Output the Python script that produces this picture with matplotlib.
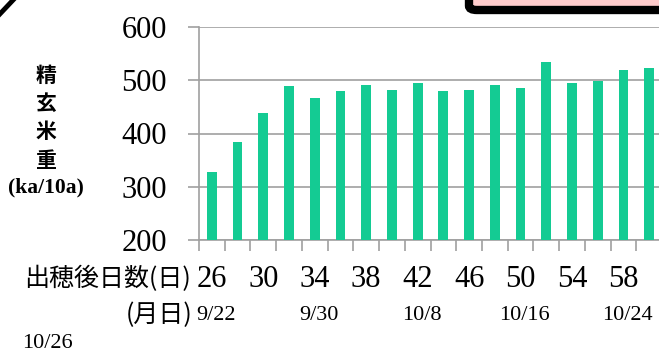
import matplotlib
matplotlib.use('Agg')
from matplotlib import pyplot as plt
from matplotlib.patches import FancyBboxPatch
from matplotlib.lines import Line2D
import numpy as np

# Brown rice weight by days after heading
days = [26, 28, 30, 32, 34, 36, 38, 40, 42, 44, 46, 48, 50, 52, 54, 56, 58, 60]
weight = [327, 384, 438, 489, 467, 479, 491, 482, 494, 479, 482, 491, 486,
          535, 494, 499, 520, 523]
label_days = [26, 30, 34, 38, 42, 46, 50, 54, 58]
date_days = [26, 34, 42, 50, 58]
date_labels = ['9/22', '9/30', '10/8', '10/16', '10/24']

W, H = 659, 354
SERIF = ['Liberation Serif', 'DejaVu Serif']
JP = ['Noto Sans CJK JP', 'DejaVu Sans']
GREEN = '#14cb93'
GRID = '#a0a0a0'


def fx(px):
    return px / W


def fy(py):
    return 1 - py / H


fig = plt.figure(figsize=(W / 100, H / 100), dpi=100)
ax = fig.add_axes([fx(199), fy(240), fx(463), (240 - 27) / H])

x = np.arange(len(days))
ax.bar(x, weight, width=0.38, color=GREEN, zorder=3)

ax.set_xlim(-0.5, len(days) - 0.5)
ax.set_ylim(200, 600)
ax.set_yticks([200, 300, 400, 500, 600])
ax.yaxis.grid(True, color=GRID, linewidth=1.2, zorder=0)

# day labels on every other bar, tick marks between bars
ax.set_xticks([days.index(d) for d in label_days])
ax.set_xticklabels([str(d) for d in label_days])
ax.set_xticks(np.arange(-0.5, len(days)), minor=True)
ax.tick_params(axis='x', which='major', length=0, pad=18)
ax.tick_params(axis='x', which='minor', length=8, color=GRID, width=1.2)
ax.tick_params(axis='y', length=8, color=GRID, width=1.2, pad=15)
for lab in ax.get_xticklabels() + ax.get_yticklabels():
    lab.set_family(SERIF)
    lab.set_fontsize(22)

for side in ['top', 'right']:
    ax.spines[side].set_visible(False)
for side in ['left', 'bottom']:
    ax.spines[side].set_color(GRID)
    ax.spines[side].set_linewidth(1.2)

# calendar dates under the day numbers
for d, lab in zip(date_days, date_labels):
    ax.text(days.index(d) + 0.15, -0.355, lab, transform=ax.get_xaxis_transform(),
            ha='center', va='center', family=SERIF, fontsize=16)

# y axis title, stacked vertically
for i, ch in enumerate('精玄米重'):
    fig.text(fx(46), fy(75 + i * 28.5), ch, ha='center', va='center',
             family=JP, fontsize=15, fontweight='bold')
fig.text(fx(46), fy(187), '(ka/10a)', ha='center', va='center',
         family=SERIF, fontsize=15.5, fontweight='bold')

# row captions at the left
fig.text(fx(191), fy(279), '出穂後日数(日)', ha='right', va='center',
         family=JP, fontsize=18)
fig.text(fx(192), fy(315), '(月日)', ha='right', va='center',
         family=JP, fontsize=18)
fig.text(fx(22), fy(344), '10/26', ha='left', va='center',
         family=SERIF, fontsize=16)

# frame pieces around the chart
fig.add_artist(Line2D([fx(-2), fx(15)], [fy(16), fy(-2)], color='black',
                      linewidth=3.5, transform=fig.transFigure))
fig.add_artist(FancyBboxPatch((fx(469), fy(10)), fx(260), fy(-30) - fy(10),
                              boxstyle='round,pad=0,rounding_size=0.012',
                              facecolor='#ffcccc', edgecolor='black',
                              linewidth=6, transform=fig.transFigure))

fig.savefig('out.png', dpi=100)
